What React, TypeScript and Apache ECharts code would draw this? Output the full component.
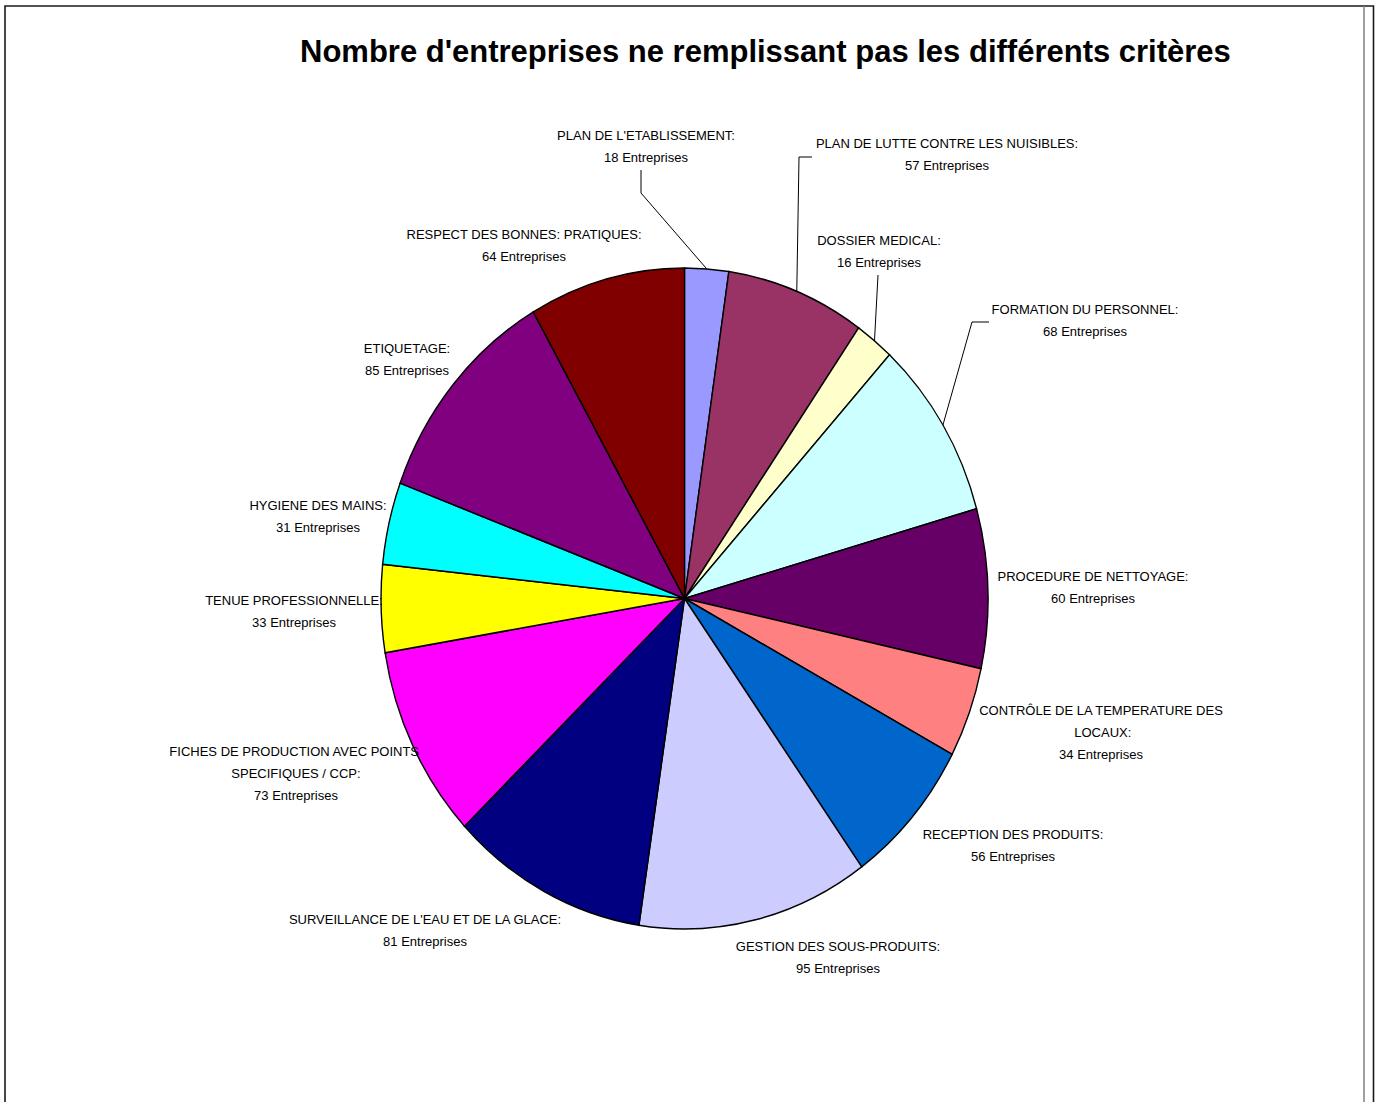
import React, { useEffect, useRef } from "react";
import * as echarts from "echarts";

// ---------- data ----------
const TITLE = "Nombre d'entreprises ne remplissant pas les différents critères";
const CATEGORIES = [
  "PLAN DE L'ETABLISSEMENT",
  "PLAN DE LUTTE CONTRE LES NUISIBLES",
  "DOSSIER MEDICAL",
  "FORMATION DU PERSONNEL",
  "PROCEDURE DE NETTOYAGE",
  "CONTRÔLE DE LA TEMPERATURE DES LOCAUX",
  "RECEPTION DES PRODUITS",
  "GESTION DES SOUS-PRODUITS",
  "SURVEILLANCE DE L'EAU ET DE LA GLACE",
  "FICHES DE PRODUCTION AVEC POINTS SPECIFIQUES / CCP",
  "TENUE PROFESSIONNELLE",
  "HYGIENE DES MAINS",
  "ETIQUETAGE",
  "RESPECT DES BONNES: PRATIQUES",
];
const VALUES = [18, 57, 16, 68, 60, 34, 56, 95, 81, 73, 33, 31, 85, 64];
const UNIT = "Entreprises";
const COLORS = [
  "#9999FF", "#993366", "#FFFFCC", "#CCFFFF", "#660066", "#FF8080", "#0066CC",
  "#CCCCFF", "#000080", "#FF00FF", "#FFFF00", "#00FFFF", "#800080", "#800000",
];

// ---------- layout ----------
const CX = 684.5;
const CY = 598.5;
const RX = 303.5;
const RY = 330.5;
const FONT = "'Liberation Sans', Arial, sans-serif";
// label block: center x, center y of first line
const LABEL_POS: [number, number][] = [
  [646, 135], [947, 143], [879, 240], [1085, 309], [1093, 576], [1101, 710],
  [1013, 834], [838, 946], [425, 919], [296, 751], [294, 600], [318, 505],
  [407, 348], [524, 234],
];
const LABEL_WRAP = [0, 0, 0, 0, 0, 250, 0, 0, 0, 262, 0, 0, 0, 0];
const LEADER_BENDS: ([number, number][] | null)[] = [
  [[641, 193], [641, 170]],
  [[799, 157], [812, 157]],
  [[878, 275]],
  [[972, 322], [989, 322]],
  null, null, null, null, null, null, null, null, null, null,
];

const TOTAL = VALUES.reduce((a, b) => a + b, 0);

export default function App() {
  const ref = useRef<HTMLDivElement>(null);
  useEffect(() => {
    if (!ref.current) return;
    const chart = echarts.init(ref.current, null, { renderer: "svg" });
    chart.setOption({
      animation: false,
      backgroundColor: "#ffffff",
      title: {
        text: TITLE,
        left: 300,
        top: 36,
        padding: 0,
        textStyle: { fontFamily: FONT, fontWeight: "bold", fontSize: 31, color: "#000" },
      },
      graphic: [
        {
          type: "rect",
          silent: true,
          shape: { x: 5, y: 6, width: 1368.5, height: 1200 },
          style: { fill: "none", stroke: "#1a1a1a", lineWidth: 1.6 },
        },
        {
          type: "line",
          silent: true,
          shape: { x1: 1364, y1: 6, x2: 1364, y2: 1102 },
          style: { stroke: "#808080", lineWidth: 1.5 },
        },
      ],
      series: [
        {
          type: "custom",
          coordinateSystem: "none",
          silent: true,
          data: VALUES.map((v, i) => ({ name: CATEGORIES[i], value: [v] })),
          renderItem: (params: any, api: any) => {
            const i = params.dataIndex;
            const v = api.value(0);
            let cum = 0;
            for (let k = 0; k < i; k++) cum += VALUES[k];
            const a0 = -Math.PI / 2 + (cum / TOTAL) * Math.PI * 2;
            const a1 = a0 + (v / TOTAL) * Math.PI * 2;
            const mid = (a0 + a1) / 2;
            const children: any[] = [
              {
                type: "sector",
                x: CX,
                y: CY,
                scaleY: RY / RX,
                shape: { cx: 0, cy: 0, r0: 0, r: RX, startAngle: a0, endAngle: a1, clockwise: true },
                style: { fill: COLORS[i], stroke: "#000", lineWidth: 1.4 },
              },
            ];
            const bends = LEADER_BENDS[i];
            if (bends) {
              const start: [number, number] = [CX + RX * Math.cos(mid), CY + RY * Math.sin(mid)];
              children.push({
                type: "polyline",
                z2: 5,
                shape: { points: [start, ...bends] },
                style: { stroke: "#000", lineWidth: 1, fill: null },
              });
            }
            const [lx, ly] = LABEL_POS[i];
            const textStyle: any = {
              text: `${CATEGORIES[i]}:\n${v} ${UNIT}`,
              x: 0,
              y: 0,
              fill: "#000",
              fontFamily: FONT,
              fontSize: 13,
              lineHeight: 22,
              align: "center",
              textAlign: "center",
              verticalAlign: "top",
              textVerticalAlign: "top",
            };
            if (LABEL_WRAP[i]) {
              textStyle.width = LABEL_WRAP[i];
              textStyle.overflow = "break";
            }
            children.push({
              type: "text",
              x: lx,
              y: ly - 11,
              z2: 10,
              style: textStyle,
            });
            return { type: "group", children };
          },
        },
      ],
    });
    return () => chart.dispose();
  }, []);
  return (
    <div
      ref={ref}
      style={{ position: "fixed", left: 0, top: 0, width: 1378, height: 1102, background: "#fff" }}
    />
  );
}
